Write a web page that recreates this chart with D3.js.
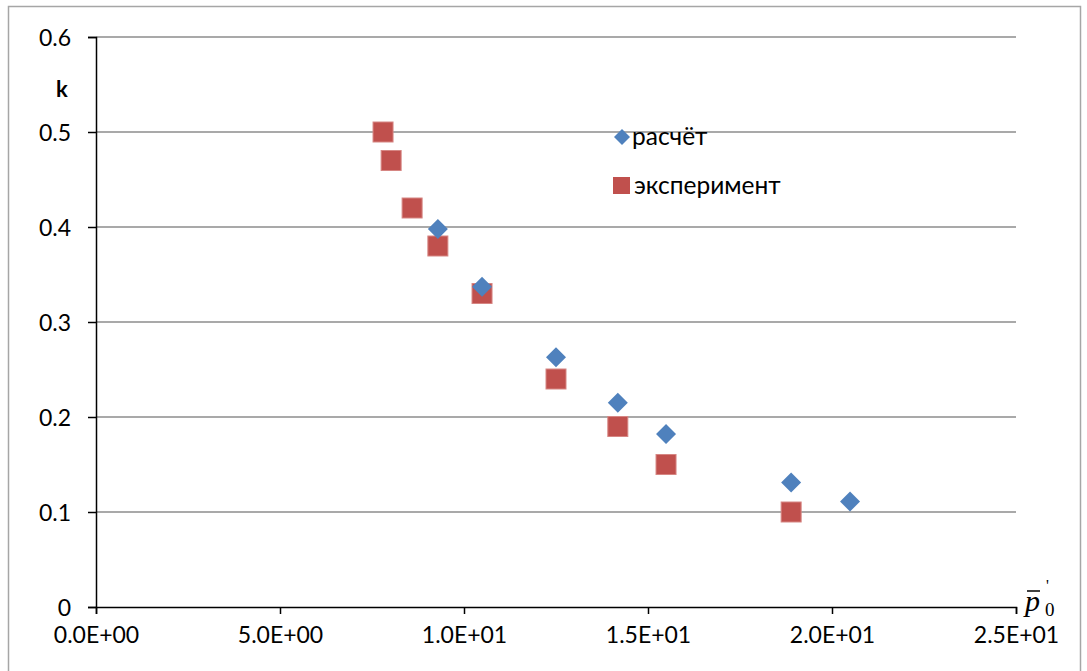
<!DOCTYPE html>
<html><head><meta charset="utf-8">
<script src="https://cdn.jsdelivr.net/npm/d3@7"></script>
<style>body{margin:0;background:#fff}svg{display:block}</style>
</head><body>
<script>
const calcX = [9.29, 10.49, 12.5, 14.18, 15.49, 18.89, 20.49];
const calcY = [0.398, 0.337, 0.263, 0.215, 0.182, 0.131, 0.111];
const expX = [7.8, 8.02, 8.59, 9.29, 10.49, 12.5, 14.18, 15.49, 18.89];
const expY = [0.50, 0.47, 0.42, 0.38, 0.33, 0.24, 0.19, 0.15, 0.10];
const xTicks = [0, 5, 10, 15, 20, 25];
const yTicks = [0, 0.1, 0.2, 0.3, 0.4, 0.5, 0.6];
const seriesNames = ["расчёт", "эксперимент"];

const W = 1087, H = 671;
const svg = d3.select("body").append("svg").attr("width", W).attr("height", H);
const font = "Lato, 'Open Sans', sans-serif";

svg.append("rect").attr("x", 8.5).attr("y", 6.5).attr("width", 1072).attr("height", 670)
  .attr("fill", "#fff").attr("stroke", "#a6a6a6").attr("stroke-width", 1.5);

const x = d3.scaleLinear().domain([0, 25]).range([96, 1016]);
const y = d3.scaleLinear().domain([0, 0.6]).range([607, 37]);

// gridlines
svg.append("g").selectAll("line").data(yTicks.filter(d => d > 0)).join("line")
  .attr("x1", x(0)).attr("x2", x(25)).attr("y1", d => y(d)).attr("y2", d => y(d))
  .attr("stroke", "#8c8c8c").attr("stroke-width", 1.3);

// y axis
const ya = svg.append("g").attr("transform", `translate(${x(0)},0)`)
  .call(d3.axisLeft(y).tickValues(yTicks).tickFormat(d => d === 0 ? "0" : d3.format(".1f")(d)).tickSize(8));
ya.select(".domain").attr("stroke", "#000").attr("stroke-width", 1.5);
ya.selectAll(".tick line").attr("stroke", "#000").attr("stroke-width", 1.5);
ya.selectAll("text").attr("font-family", font).attr("font-size", 23).attr("fill", "#000").attr("dy", "0.35em").attr("x", -25);

// x axis
const xa = svg.append("g").attr("transform", `translate(0,${y(0)})`)
  .call(d3.axisBottom(x).tickValues(xTicks).tickFormat(d => d3.format(".1e")(d).replace("e", "E").replace(/E([+-])(\d)$/, "E$10$2")).tickSize(7).tickPadding(13));
xa.select(".domain").attr("stroke", "#000").attr("stroke-width", 1.5);
xa.selectAll(".tick line").attr("stroke", "#000").attr("stroke-width", 1.5);
xa.selectAll("text").attr("font-family", font).attr("font-size", 23).attr("fill", "#000");

// series
const sq = 20;
svg.append("g").selectAll("rect").data(expX.map((d, i) => [d, expY[i]])).join("rect")
  .attr("x", d => x(d[0]) - sq / 2).attr("y", d => y(d[1]) - sq / 2)
  .attr("width", sq).attr("height", sq)
  .attr("fill", "#C0504D").attr("stroke", "#d68683").attr("stroke-width", 1);
const dm = 10;
svg.append("g").selectAll("path").data(calcX.map((d, i) => [d, calcY[i]])).join("path")
  .attr("d", d => `M${x(d[0])},${y(d[1]) - dm}L${x(d[0]) + dm},${y(d[1])}L${x(d[0])},${y(d[1]) + dm}L${x(d[0]) - dm},${y(d[1])}Z`)
  .attr("fill", "#4F81BD");

// legend
const lg = svg.append("g");
lg.append("path").attr("d", `M622,129L630,137L622,145L614,137Z`).attr("fill", "#4F81BD");
lg.append("text").attr("x", 632).attr("y", 145).text(seriesNames[0])
  .attr("font-family", font).attr("font-size", 24.5).attr("fill", "#000");
lg.append("rect").attr("x", 613).attr("y", 177).attr("width", 17).attr("height", 17).attr("fill", "#C0504D");
lg.append("text").attr("x", 634).attr("y", 194).text(seriesNames[1])
  .attr("font-family", font).attr("font-size", 24.5).attr("fill", "#000");

// axis titles
svg.append("text").attr("x", 62).attr("y", 97).attr("text-anchor", "middle")
  .attr("font-family", font).attr("font-weight", "bold").attr("font-size", 22).text("k");
const pt = svg.append("g");
pt.append("text").attr("x", 1025).attr("y", 611).attr("font-family", "'Liberation Serif', serif")
  .attr("font-style", "italic").attr("font-size", 30).text("p");
pt.append("line").attr("x1", 1027).attr("x2", 1040).attr("y1", 591).attr("y2", 591).attr("stroke", "#000").attr("stroke-width", 1.5);
pt.append("text").attr("x", 1045).attr("y", 616).attr("font-family", "'Liberation Serif', serif")
  .attr("font-size", 19).text("0");
pt.append("text").attr("x", 1046).attr("y", 591).attr("font-family", "'Liberation Serif', serif")
  .attr("font-size", 16).text("'");
</script>
</body></html>
